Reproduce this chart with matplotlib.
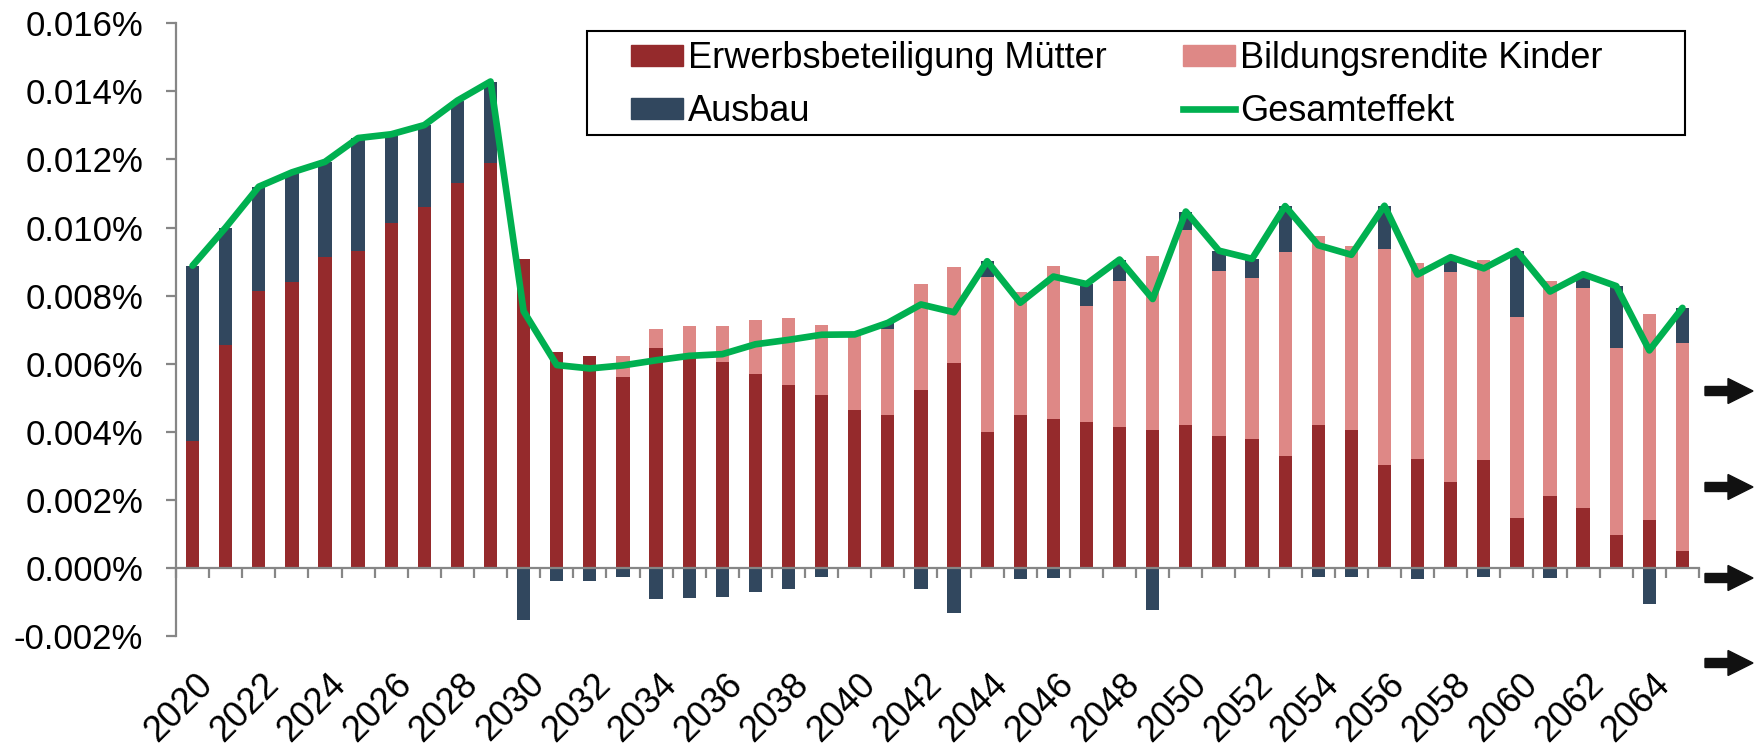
import numpy as np
import matplotlib
matplotlib.use("Agg")
import matplotlib.pyplot as plt
from matplotlib.patches import Patch, Rectangle, FancyArrow
from matplotlib.lines import Line2D
from matplotlib.ticker import FuncFormatter, MultipleLocator, FixedLocator
from matplotlib.transforms import blended_transform_factory, IdentityTransform

plt.rcParams['font.family'] = ['Liberation Sans', 'DejaVu Sans']

# Daten (Effekt in Prozent)
jahre = list(range(2020, 2066))
erwerb = [0.00374, 0.00654, 0.00815, 0.00840, 0.00913, 0.00931, 0.01012, 0.01059, 0.01130, 0.01189,
          0.00907, 0.00633, 0.00624, 0.00562, 0.00645, 0.00618, 0.00605, 0.00571, 0.00536, 0.00509,
          0.00465, 0.00450, 0.00523, 0.00603, 0.00400, 0.00450, 0.00438, 0.00429, 0.00415, 0.00406,
          0.00420, 0.00389, 0.00378, 0.00330, 0.00421, 0.00406, 0.00301, 0.00321, 0.00251, 0.00318,
          0.00148, 0.00210, 0.00175, 0.00096, 0.00140, 0.00049]
bildung = [0, 0, 0, 0, 0, 0, 0, 0, 0, 0,
           0, 0, 0, 0.00060, 0.00057, 0.00094, 0.00107, 0.00158, 0.00197, 0.00204,
           0.00221, 0.00252, 0.00312, 0.00280, 0.00454, 0.00361, 0.00449, 0.00341, 0.00428, 0.00509,
           0.00572, 0.00482, 0.00473, 0.00598, 0.00553, 0.00540, 0.00635, 0.00574, 0.00617, 0.00588,
           0.00590, 0.00632, 0.00646, 0.00550, 0.00605, 0.00611]
ausbau = [0.00514, 0.00346, 0.00305, 0.00322, 0.00280, 0.00332, 0.00262, 0.00242, 0.00243, 0.00240,
          -0.00153, -0.00037, -0.00038, -0.00027, -0.00092, -0.00089, -0.00084, -0.00072, -0.00063, -0.00028,
          0.0, 0.00018, -0.00061, -0.00132, 0.00047, -0.00032, -0.00031, 0.00064, 0.00063, -0.00125,
          0.00055, 0.00061, 0.00057, 0.00135, -0.00026, -0.00026, 0.00128, -0.00033, 0.00042, -0.00026,
          0.00193, -0.00030, 0.00040, 0.00182, -0.00106, 0.00104]
gesamt = [0.00888, 0.01000, 0.01120, 0.01162, 0.01193, 0.01263, 0.01274, 0.01301, 0.01373, 0.01429,
          0.00754, 0.00596, 0.00586, 0.00595, 0.00610, 0.00623, 0.00628, 0.00657, 0.00670, 0.00685,
          0.00686, 0.00720, 0.00774, 0.00751, 0.00901, 0.00779, 0.00856, 0.00834, 0.00906, 0.00790,
          0.01047, 0.00932, 0.00908, 0.01063, 0.00948, 0.00920, 0.01064, 0.00862, 0.00913, 0.00880,
          0.00931, 0.00812, 0.00863, 0.00828, 0.00639, 0.00764]

ROT = '#952A2C'
ROSA = '#DE8886'
BLAU = '#31475E'
GRUEN = '#00B050'
GRAU = '#868686'

W, H = 1756, 748
fig = plt.figure(figsize=(W / 100, H / 100), dpi=100)
ax = fig.add_axes([176 / W, 1 - 636 / H, (1699 - 176) / W, (636 - 23.3) / H])

x = np.arange(len(jahre))
erwerb = np.array(erwerb)
bildung = np.array(bildung)
ausbau = np.array(ausbau)
ausbau_basis = np.where(ausbau >= 0, erwerb + bildung, 0)

ax.bar(x, erwerb, 0.4, color=ROT, zorder=2)
ax.bar(x, bildung, 0.4, bottom=erwerb, color=ROSA, zorder=2)
ax.bar(x, ausbau, 0.4, bottom=ausbau_basis, color=BLAU, zorder=2)
ax.plot(x, gesamt, color=GRUEN, lw=4.8, zorder=4, solid_joinstyle='round', solid_capstyle='round')

ax.set_xlim(-0.5, len(jahre) - 0.5)
ax.set_ylim(-0.002, 0.016)
ax.yaxis.set_major_locator(MultipleLocator(0.002))
ax.yaxis.set_major_formatter(FuncFormatter(lambda v, _: f'{v:.3f}%'))

for s in ['top', 'right']:
    ax.spines[s].set_visible(False)
ax.spines['bottom'].set_position(('data', 0))
ax.spines['bottom'].set_zorder(3)
for s in ['left', 'bottom']:
    ax.spines[s].set_color(GRAU)
    ax.spines[s].set_linewidth(1.6)

ax.xaxis.set_major_locator(FixedLocator(np.arange(len(jahre) + 1) - 0.5))
ax.tick_params(axis='x', direction='out', length=7.5, width=1.6, color=GRAU, labelbottom=False)
ax.tick_params(axis='y', direction='out', length=7.5, width=1.6, color=GRAU, labelsize=25, pad=16)

# Jahreslabels unterhalb der Achse
trans = blended_transform_factory(ax.transData, ax.transAxes)
for i, j in enumerate(jahre):
    if j % 2 == 0:
        ax.text(i + 0.08, -0.050, str(j), rotation=45, rotation_mode='anchor',
                ha='right', va='top', fontsize=26, transform=trans)

# Legende
handles = [Patch(color=ROT), Patch(color=BLAU), Patch(color=ROSA),
           Line2D([], [], color=GRUEN, lw=4.8)]
labels = ['Erwerbsbeteiligung Mütter', 'Ausbau', 'Bildungsrendite Kinder', 'Gesamteffekt']
fig.legend(handles, labels, ncol=2, loc='upper left', frameon=False,
           bbox_to_anchor=(631 / W, 1 - 41 / H), bbox_transform=fig.transFigure,
           borderpad=0, borderaxespad=0, fontsize=26, handlelength=1.44, handleheight=0.53,
           handletextpad=0.15, columnspacing=2.1, labelspacing=0.5)
fig.add_artist(Rectangle((587, H - 135), 1685 - 587, 135 - 31, fill=False,
                         edgecolor='black', lw=1.5, transform=IdentityTransform()))

# Pfeile am rechten Rand
for yp in [391, 487, 578, 663]:
    fig.add_artist(FancyArrow(1705, H - yp, 48, 0, width=9, head_width=25, head_length=25,
                              length_includes_head=True, color='#111111', transform=IdentityTransform()))

fig.savefig('out.png', dpi=100)
